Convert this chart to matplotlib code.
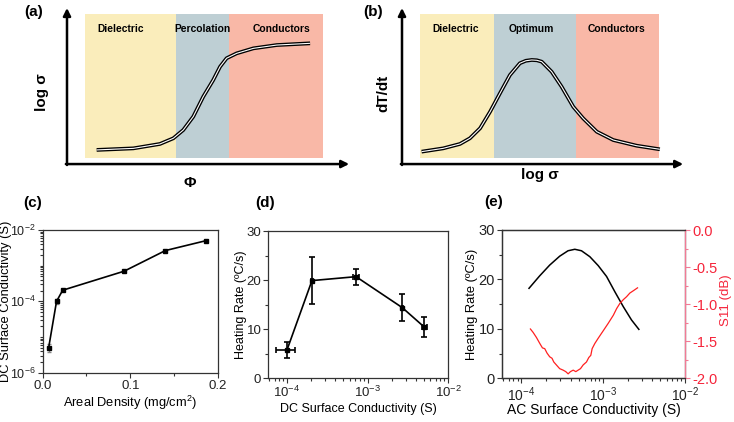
import numpy as np
import matplotlib.pyplot as plt
from matplotlib.ticker import LogLocator, MultipleLocator, NullFormatter, FormatStrFormatter

plt.rcParams['font.family'] = ['Liberation Sans', 'DejaVu Sans']
plt.rcParams['mathtext.fontset'] = 'custom'
plt.rcParams['mathtext.rm'] = 'Liberation Sans'
plt.rcParams['mathtext.it'] = 'Liberation Sans:italic'
plt.rcParams['mathtext.bf'] = 'Liberation Sans:bold'
plt.rcParams['axes.unicode_minus'] = False

# ---- (a) schematic: log sigma vs phi
a_edges = [6.3, 38.2, 56.8, 89.8]
a_names = ['Dielectric', 'Percolation', 'Conductors']
a_x = [10.4, 23.3, 32.6, 37.3, 40.8, 44.3, 47.8, 51.3, 53.7, 56.0, 59.5, 65.4, 73.6, 85.3]
a_y = [9.6, 10.6, 13.4, 17.0, 22.3, 30.8, 43.5, 54.1, 62.6, 68.0, 71.1, 74.3, 76.4, 77.5]

# ---- (b) schematic: dT/dt vs log sigma
b_edges = [6.3, 32.4, 61.3, 90.5]
b_names = ['Dielectric', 'Optimum', 'Conductors']
b_x = [6.9, 14.5, 20.4, 23.9, 27.5, 31.0, 34.5, 38.0, 41.5, 43.6, 45.7, 47.5, 49.2,
       52.7, 56.2, 60.3, 63.8, 68.6, 74.4, 82.6, 90.8]
b_y = [8.5, 10.6, 13.4, 17.0, 23.4, 33.9, 45.7, 57.3, 64.8, 66.4, 66.9, 66.7, 65.8,
       59.4, 49.9, 37.1, 29.7, 21.2, 15.9, 12.3, 10.0]
region_colors = ['#FAEDBB', '#BECFD4', '#F9B8A7']

# ---- (c) DC conductivity vs areal density
c_density = [0.007, 0.016, 0.023, 0.093, 0.140, 0.186]
c_cond = [5.0e-6, 1.0e-4, 2.05e-4, 7.0e-4, 2.65e-3, 5.0e-3]
c_err = [1.2e-6, 1.5e-5, 1.5e-5, 3e-5, 1e-4, 2e-4]

# ---- (d) heating rate vs DC conductivity
d_cond = [1.0e-4, 2.04e-4, 7.2e-4, 2.7e-3, 5.1e-3]
d_rate = [5.8, 19.9, 20.7, 14.4, 10.4]
d_rate_err = [1.6, 4.75, 1.6, 2.75, 2.0]
d_cond_lo = [2.8e-5, 5e-6, 5.5e-5, 5e-5, 3.2e-4]
d_cond_hi = [2.6e-5, 5e-6, 5.4e-5, 5e-5, 4.0e-4]

# ---- (e) heating rate and S11 vs AC conductivity
e_cond = [1.24e-4, 1.67e-4, 2.22e-4, 2.94e-4, 3.72e-4, 4.5e-4, 5.43e-4, 6.87e-4,
          8.69e-4, 1.1e-3, 1.39e-3, 1.76e-3, 2.22e-3, 2.73e-3]
e_rate = [18.2, 20.7, 22.9, 24.7, 25.8, 26.1, 25.8, 24.6, 22.8, 20.6, 17.5, 14.5, 11.8, 9.9]
s11_cond = [1.29e-4, 1.39e-4, 1.53e-4, 1.68e-4, 1.81e-4, 1.93e-4, 2.06e-4, 2.22e-4,
            2.37e-4, 2.49e-4, 2.68e-4, 2.94e-4, 3.24e-4, 3.49e-4, 3.73e-4, 3.98e-4,
            4.30e-4, 4.63e-4, 4.94e-4, 5.28e-4, 5.69e-4, 6.25e-4, 6.67e-4, 7.06e-4,
            7.33e-4, 7.91e-4, 8.69e-4, 1.0e-3, 1.15e-3, 1.33e-3, 1.46e-3, 1.60e-3,
            1.76e-3, 1.93e-3, 2.12e-3, 2.33e-3, 2.63e-3]
s11 = [-1.335, -1.38, -1.45, -1.53, -1.59, -1.60, -1.66, -1.71, -1.73, -1.78, -1.82,
       -1.87, -1.89, -1.91, -1.94, -1.91, -1.89, -1.91, -1.89, -1.87, -1.82, -1.78,
       -1.72, -1.69, -1.60, -1.53, -1.46, -1.36, -1.26, -1.15, -1.06, -0.99, -0.94,
       -0.90, -0.85, -0.82, -0.78]

W, H = 734, 422


def box(left, top, right, bottom):
    return [left / W, 1 - bottom / H, (right - left) / W, (bottom - top) / H]


fig = plt.figure(figsize=(W / 100, H / 100), dpi=100)


def schematic(ax, edges, names, name_x, cx, cy):
    ax.set_xlim(0, 100)
    ax.set_ylim(0, 100)
    ax.axis('off')
    for i in range(3):
        ax.axvspan(edges[i], edges[i + 1], ymin=0.045, ymax=0.962,
                   color=region_colors[i], lw=0)
        ax.text(name_x[i], 86.6, names[i], ha='center', va='center',
                fontsize=7.4, fontweight='bold')
    ax.plot(cx, cy, color='black', lw=2.7, solid_capstyle='butt')
    ax.plot(cx, cy, color='white', lw=0.8, solid_capstyle='butt')
    arrow = dict(arrowstyle='-|>', lw=1.8, color='black', mutation_scale=11,
                 shrinkA=0, shrinkB=0)
    ax.annotate('', xy=(99, 0.6), xytext=(-0.4, 0.6), arrowprops=arrow,
                annotation_clip=False)
    ax.annotate('', xy=(0, 100), xytext=(0, 0), arrowprops=arrow,
                annotation_clip=False)


axa = fig.add_axes(box(67, 8, 352, 165))
schematic(axa, a_edges, a_names, [18.9, 47.7, 75.4], a_x, a_y)
axa.text(-8.8, 46.5, 'log σ', rotation=90, ha='center', va='center',
         fontsize=11, fontweight='bold')
axa.text(43.2, -11.5, 'Φ', ha='center', va='center', fontsize=11, fontweight='bold')

axb = fig.add_axes(box(402, 8, 686, 165))
schematic(axb, b_edges, b_names, [19.0, 45.4, 75.6], b_x, b_y)
axb.text(-6.7, 45.9, 'dT/dt', rotation=90, ha='center', va='center',
         fontsize=11, fontweight='bold')
axb.text(48.6, -6.4, 'log σ', ha='center', va='center', fontsize=11, fontweight='bold')


def style(ax, size):
    kw = dict(direction='out', labelsize=size, width=0.8, colors='#333333',
              labelcolor='#222222')
    for s in ax.spines.values():
        s.set_linewidth(0.9)
        s.set_color('#333333')
    ax.tick_params(which='major', length=3.5, pad=1.5, **kw)
    ax.tick_params(which='minor', length=2, **kw)


# (c)
axc = fig.add_axes(box(42.5, 230, 218, 372.7))
axc.errorbar(c_density, c_cond, yerr=c_err, fmt='none', ecolor='#888888',
             elinewidth=0.8, capsize=1.5)
axc.plot(c_density, c_cond, '-s', color='black', lw=1.2, ms=3.2)
axc.set_yscale('log')
axc.set_ylim(1e-6, 1e-2)
axc.set_xlim(0, 0.2)
axc.set_yticks([1e-6, 1e-4, 1e-2])
axc.yaxis.set_minor_locator(LogLocator(base=10, subs=np.arange(1, 10), numticks=20))
axc.yaxis.set_minor_formatter(NullFormatter())
axc.xaxis.set_major_locator(MultipleLocator(0.1))
axc.xaxis.set_minor_locator(MultipleLocator(0.05))
axc.xaxis.set_major_formatter(FormatStrFormatter('%.1f'))
style(axc, 9.5)
axc.tick_params(axis='y', which='major', labelsize=9)
axc.set_xlabel('Areal Density (mg/cm$^2$)', fontsize=9.3)
axc.set_ylabel('DC Surface Conductivity (S)', fontsize=9.3)
axc.xaxis.set_label_coords(0.5, -0.15)
axc.yaxis.set_label_coords(-0.175, 0.5)

# (d)
axd = fig.add_axes(box(268.3, 231, 448, 378.3))
axd.errorbar(d_cond, d_rate, yerr=d_rate_err, xerr=[d_cond_lo, d_cond_hi],
             fmt='-s', color='black', lw=1.2, ms=3, elinewidth=1.2,
             capsize=2.5, capthick=1.2)
axd.set_xscale('log')
axd.set_xlim(5.85e-5, 1e-2)
axd.set_ylim(0, 30)
axd.yaxis.set_major_locator(MultipleLocator(10))
axd.yaxis.set_minor_locator(MultipleLocator(5))
axd.xaxis.set_minor_locator(LogLocator(base=10, subs=np.arange(2, 10), numticks=20))
axd.xaxis.set_minor_formatter(NullFormatter())
style(axd, 9.5)
axd.set_xlabel('DC Surface Conductivity (S)', fontsize=9)
axd.set_ylabel('Heating Rate (ºC/s)', fontsize=9)
axd.xaxis.set_label_coords(0.5, -0.165)
axd.yaxis.set_label_coords(-0.118, 0.5)

# (e)
axe = fig.add_axes(box(502, 230, 685, 378.3))
axe.plot(e_cond, e_rate, color='black', lw=1.1)
axe.set_xscale('log')
axe.set_xlim(5.8e-5, 1e-2)
axe.set_ylim(0, 30)
axe.yaxis.set_major_locator(MultipleLocator(10))
axe.yaxis.set_minor_locator(MultipleLocator(5))
axe.xaxis.set_minor_locator(LogLocator(base=10, subs=np.arange(2, 10), numticks=20))
axe.xaxis.set_minor_formatter(NullFormatter())
style(axe, 10.5)
axe.tick_params(axis='x', which='major', labelsize=10)
axe.set_xlabel('AC Surface Conductivity (S)', fontsize=10)
axe.set_ylabel('Heating Rate (ºC/s)', fontsize=9.3)
axe.xaxis.set_label_coords(0.5, -0.165)
axe.yaxis.set_label_coords(-0.13, 0.5)

red = '#F5243A'
axr = axe.twinx()
axr.plot(s11_cond, s11, color='#FF2020', lw=0.9)
axr.set_ylim(-2, 0)
axr.yaxis.set_major_locator(MultipleLocator(0.5))
axr.yaxis.set_minor_locator(MultipleLocator(0.25))
axr.yaxis.set_major_formatter(FormatStrFormatter('%.1f'))
style(axr, 10.5)
axr.spines['right'].set_color('#F27A95')
axr.tick_params(axis='y', which='both', colors='#F27A95', labelcolor=red)
axr.set_ylabel('S11 (dB)', fontsize=9.5, color=red)
axr.yaxis.set_label_coords(1.19, 0.53)

for lab, px, py in [('(a)', 34, 12), ('(b)', 373, 12), ('(c)', 33, 203),
                    ('(d)', 265, 203), ('(e)', 494, 202)]:
    fig.text(px / W, 1 - py / H, lab, ha='center', va='center',
             fontsize=11, fontweight='bold')

fig.savefig('out.png', dpi=100)
